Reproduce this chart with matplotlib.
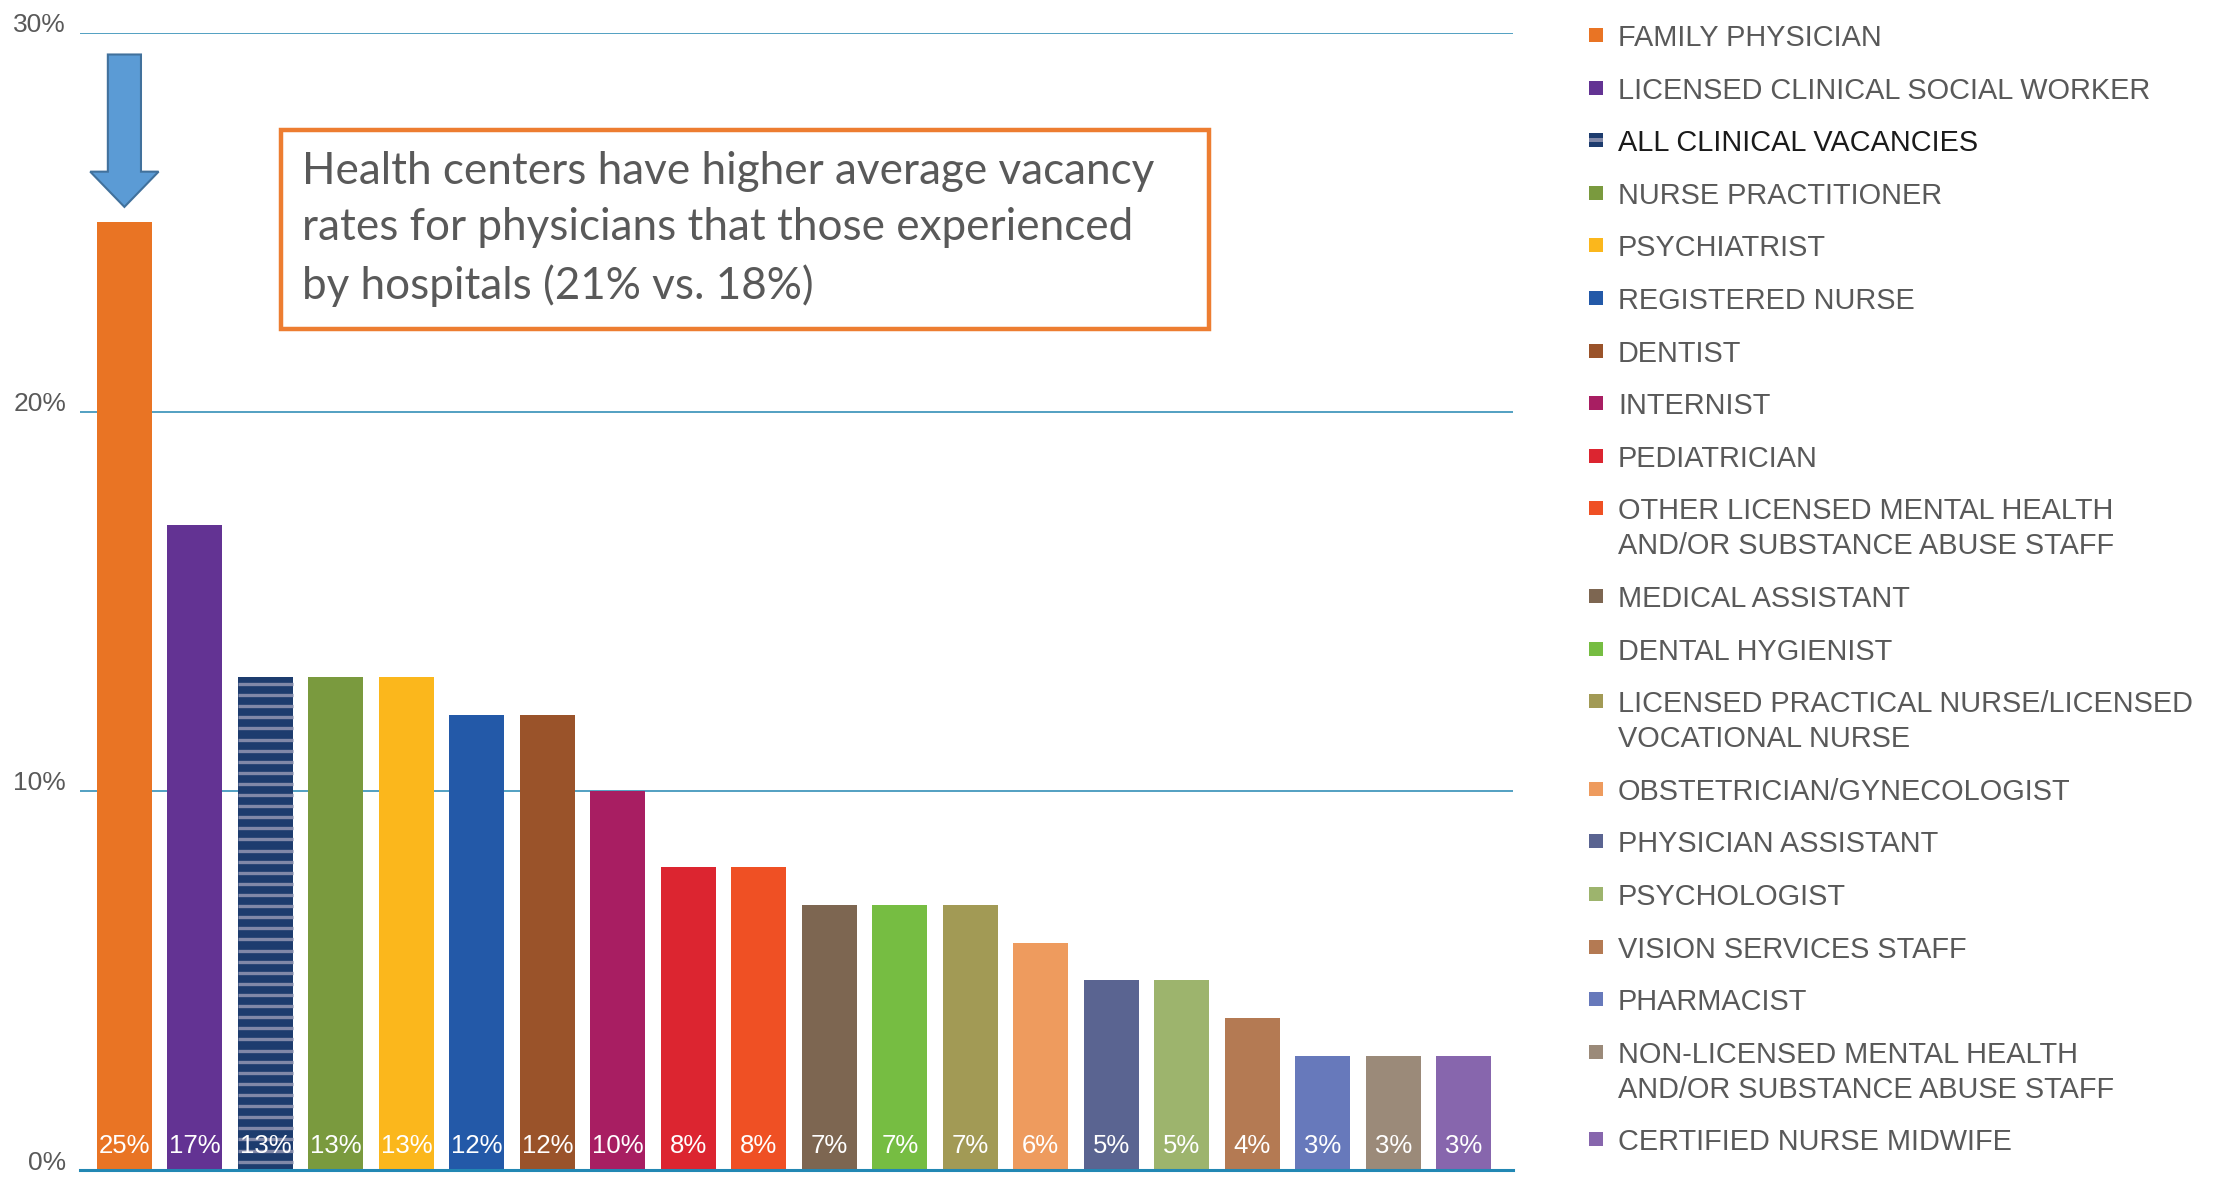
import numpy as np
import matplotlib
matplotlib.use("Agg")
import matplotlib.pyplot as plt
from matplotlib.patches import Rectangle, FancyArrow
from matplotlib.transforms import ScaledTranslation

plt.rcParams['font.family'] = ['Liberation Sans', 'DejaVu Sans']

# ---- data ----
categories = [
    "FAMILY PHYSICIAN",
    "LICENSED CLINICAL SOCIAL WORKER",
    "ALL CLINICAL VACANCIES",
    "NURSE PRACTITIONER",
    "PSYCHIATRIST",
    "REGISTERED NURSE",
    "DENTIST",
    "INTERNIST",
    "PEDIATRICIAN",
    "OTHER LICENSED MENTAL HEALTH\nAND/OR SUBSTANCE ABUSE STAFF",
    "MEDICAL ASSISTANT",
    "DENTAL HYGIENIST",
    "LICENSED PRACTICAL NURSE/LICENSED\nVOCATIONAL NURSE",
    "OBSTETRICIAN/GYNECOLOGIST",
    "PHYSICIAN ASSISTANT",
    "PSYCHOLOGIST",
    "VISION SERVICES STAFF",
    "PHARMACIST",
    "NON-LICENSED MENTAL HEALTH\nAND/OR SUBSTANCE ABUSE STAFF",
    "CERTIFIED NURSE MIDWIFE",
]
values = [25, 17, 13, 13, 13, 12, 12, 10, 8, 8, 7, 7, 7, 6, 5, 5, 4, 3, 3, 3]
colors = ['#e97424', '#633393', '#1d3c6e', '#7a9a3e', '#fbb71c', '#2359a8',
          '#9a532a', '#a81e62', '#dc2530', '#ef5024', '#7d6651', '#76bd42',
          '#a29a55', '#ee9b5e', '#5a6491', '#9db46d', '#b47a53', '#6779bb',
          '#9b8a79', '#8766ad']
striped = "ALL CLINICAL VACANCIES"
yticks = [0, 10, 20, 30]
note = ("Health centers have higher average vacancy\n"
        "rates for physicians that those experienced\n"
        "by hospitals (21% vs. 18%)")

W, H = 2213, 1178
fig = plt.figure(figsize=(W / 100, H / 100), dpi=100)
ax = fig.add_axes([80 / W, 1 - 1170 / H, (1513 - 80) / W, (1170 - 32.5) / H])

x = np.arange(len(values))
bw = 0.78
bars = ax.bar(x, values, width=bw, color=colors, zorder=2)

# stripes on the "all clinical" bar
i = categories.index(striped)
step = 0.293
ax.hlines(np.arange(step * 0.75, values[i], step), x[i] - bw / 2, x[i] + bw / 2,
          color='#8088a8', lw=2.4, zorder=3)

for xi, v in zip(x, values):
    ax.text(xi, 0.62, f"{v}%", ha='center', va='center', color='white',
            fontsize=18.5, zorder=4)

ax.set_xlim(-0.63, len(values) - 1 + 0.70)
ax.set_ylim(0, 30)
ax.set_xticks([])
ax.set_yticks(yticks)
ax.set_yticklabels([f"{t}%" for t in yticks], fontsize=19, color='#595959')
ax.tick_params(axis='y', length=0, pad=10)
for lab in ax.get_yticklabels():
    lab.set_transform(lab.get_transform() + ScaledTranslation(0, 0.10, fig.dpi_scale_trans))
for s in ax.spines.values():
    s.set_visible(False)
ax.yaxis.grid(True, color='#3590b8', lw=1.2, zorder=0)
ax.set_axisbelow(True)
ax.axhline(0, color='#2288b4', lw=2.2, clip_on=False, zorder=5)

# arrow above first bar
arr = FancyArrow(x[0], 29.42, 0, -(29.42 - 25.4), width=0.47, head_width=0.97,
                 head_length=0.93, length_includes_head=True,
                 facecolor='#5b9bd5', edgecolor='#41719c', lw=1.5, zorder=4)
ax.add_patch(arr)

# annotation box
fig.patches.append(Rectangle((281 / W, 1 - 329 / H), (1209 - 281) / W, (329 - 130) / H,
                             transform=fig.transFigure, fill=False,
                             edgecolor='#ed7d31', lw=3.2))
fig.text(302 / W, 1 - 229 / H, note, ha='left', va='center', fontsize=31.7,
         family=['Lato', 'DejaVu Sans'], color='#595959', linespacing=1.45)

# legend
y = 35.0
for cat, col in zip(categories, colors):
    lines = cat.split("\n")
    fig.patches.append(Rectangle((1589 / W, 1 - (y + 7) / H), 14 / W, 14 / H,
                                 transform=fig.transFigure, facecolor=col, edgecolor='none'))
    if cat == striped:
        fig.patches.append(Rectangle((1589 / W, 1 - (y + 2) / H), 14 / W, 4 / H,
                                     transform=fig.transFigure, facecolor='#8088a8',
                                     edgecolor='none'))
    tc = '#1a1a1a' if cat == striped else '#595959'
    for k, ln in enumerate(lines):
        fig.text(1618 / W, 1 - (y + 35 * k) / H, ln, ha='left', va='center_baseline',
                 fontsize=20.8, color=tc)
    y += 52.6 + 35 * (len(lines) - 1)

fig.savefig("out.png", dpi=100)
